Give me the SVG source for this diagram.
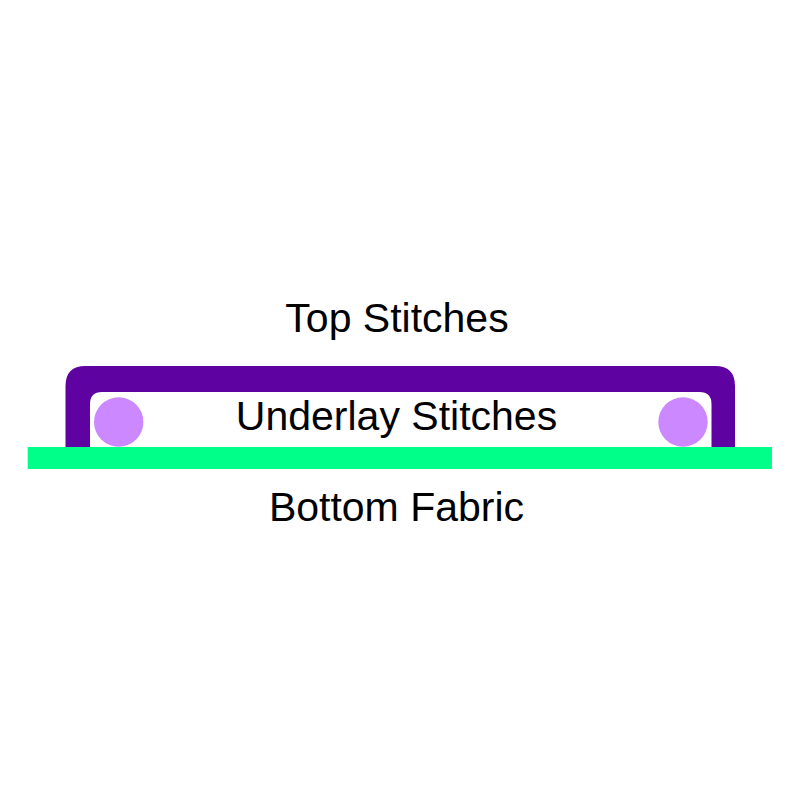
<svg xmlns="http://www.w3.org/2000/svg" width="800" height="800" viewBox="0 0 800 800">
<style>
  .lbl { font-family: "Liberation Sans", Arial, sans-serif; font-size: 41px; fill: #000; text-anchor: middle; }
</style>
<rect width="800" height="800" fill="#fff"/>
<g id="top-stitches">
  <path d="M65.5,447 V386 Q65.5,366 85.5,366 H715 Q735,366 735,386 V447 H711.5 V404 Q711.5,392 699.5,392 H102 Q90,392 90,404 V447 Z" fill="#5E02A2"/>
  <text class="lbl" x="397" y="332">Top Stitches</text>
</g>
<g id="underlay-stitches">
  <circle cx="118.7" cy="422" r="24.7" fill="#CC88FF"/>
  <circle cx="683" cy="422" r="24.7" fill="#CC88FF"/>
  <text class="lbl" x="396.5" y="429.5">Underlay Stitches</text>
</g>
<g id="bottom-fabric">
  <rect x="27.7" y="447" width="744.3" height="22" fill="#00FF88"/>
  <text class="lbl" x="396.5" y="521">Bottom Fabric</text>
</g>
</svg>
